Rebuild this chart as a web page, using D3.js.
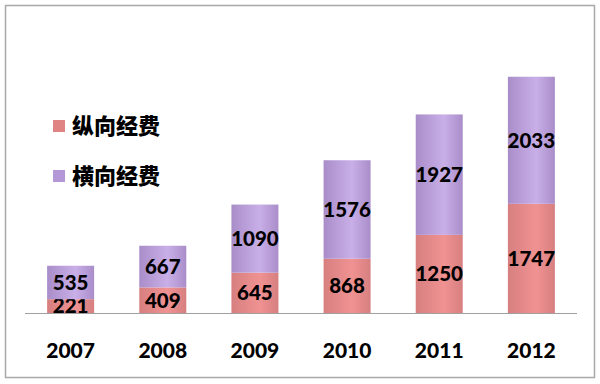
<!DOCTYPE html>
<html>
<head>
<meta charset="utf-8">
<script src="https://cdn.jsdelivr.net/npm/d3@7"></script>
<style>
  body { margin: 0; background: #fff; }
  svg { display: block; }
</style>
</head>
<body>
<div id="chart"></div>
<script>
// data
const years = ["2007", "2008", "2009", "2010", "2011", "2012"];
const zongxiang = [221, 409, 645, 868, 1250, 1747];   // 纵向经费
const hengxiang = [535, 667, 1090, 1576, 1927, 2033]; // 横向经费
const seriesNames = ["纵向经费", "横向经费"];

const W = 600, H = 384;
const margin = { top: 20, left: 25, right: 23, bottom: 71 };

let svg = d3.select("#chart").append("svg")
    .attr("width", W)
    .attr("height", H);

// outer frame
svg.append("rect")
    .attr("x", 5.5).attr("y", 5.5)
    .attr("width", 589).attr("height", 372)
    .attr("fill", "#fff")
    .attr("stroke", "#a9a9a9")
    .attr("stroke-width", 1.5);

// gradients to mimic the cylinder shading
let defs = svg.append("defs");
function cyl(id, edge, light) {
    let g = defs.append("linearGradient").attr("id", id)
        .attr("x1", "0%").attr("x2", "100%").attr("y1", "0%").attr("y2", "0%");
    g.append("stop").attr("offset", "0%").attr("stop-color", edge);
    g.append("stop").attr("offset", "60%").attr("stop-color", light);
    g.append("stop").attr("offset", "100%").attr("stop-color", edge);
}
cyl("gRed", "#d77f80", "#f09292");
cyl("gPurple", "#a98dc9", "#c9afe8");

let data = years.map((y, i) => ({ year: y, zong: zongxiang[i], heng: hengxiang[i] }));
let stack = d3.stack().keys(["zong", "heng"])(data);

let x = d3.scaleBand()
    .domain(years)
    .range([margin.left, W - margin.right])
    .paddingInner(0.49)
    .paddingOuter(0.24);

let y = d3.scaleLinear()
    .domain([0, 4000])
    .range([H - margin.bottom, H - margin.bottom - 250]);

let fills = ["url(#gRed)", "url(#gPurple)"];

let layers = svg.selectAll("g.layer")
    .data(stack)
    .enter().append("g")
        .attr("class", "layer")
        .attr("fill", (d, i) => fills[i]);

layers.selectAll("rect")
    .data(d => d)
    .enter().append("rect")
        .attr("x", d => x(d.data.year))
        .attr("y", d => y(d[1]))
        .attr("width", x.bandwidth())
        .attr("height", d => y(d[0]) - y(d[1]));

// baseline
svg.append("line")
    .attr("x1", margin.left).attr("x2", W - margin.right)
    .attr("y1", y(0) + 0.5).attr("y2", y(0) + 0.5)
    .attr("stroke", "#a0a0a0")
    .attr("stroke-width", 1.2);

// value labels
layers.selectAll("text")
    .data(d => d)
    .enter().append("text")
        .attr("x", d => x(d.data.year) + x.bandwidth() / 2)
        .attr("y", d => (y(d[0]) + y(d[1])) / 2)
        .attr("dy", "0.36em")
        .attr("text-anchor", "middle")
        .attr("fill", "#000")
        .style("font-family", "Lato, 'Liberation Sans', sans-serif")
        .style("font-weight", "900")
        .style("font-size", "20.5px")
        .text(d => d[1] - d[0]);

// x axis (years)
let xAxis = svg.append("g")
    .attr("transform", "translate(0," + y(0) + ")")
    .call(d3.axisBottom(x).tickSize(0).tickPadding(30));
xAxis.select(".domain").remove();
xAxis.selectAll("text")
    .attr("fill", "#000")
    .style("font-family", "Lato, 'Liberation Sans', sans-serif")
    .style("font-weight", "900")
    .style("font-size", "21px");

// legend
let legend = svg.append("g");
let legendColors = ["#e08383", "#b497d6"];
seriesNames.forEach(function (name, i) {
    let g = legend.append("g").attr("transform", "translate(53," + (120 + i * 50) + ")");
    g.append("rect")
        .attr("width", 12).attr("height", 12)
        .attr("fill", legendColors[i]);
    g.append("text")
        .attr("x", 19).attr("y", 6)
        .attr("dy", "0.36em")
        .attr("fill", "#000")
        .style("font-family", "'Noto Sans CJK SC', sans-serif")
        .style("font-weight", "900")
        .style("font-size", "22px")
        .text(name);
});
</script>
</body>
</html>
